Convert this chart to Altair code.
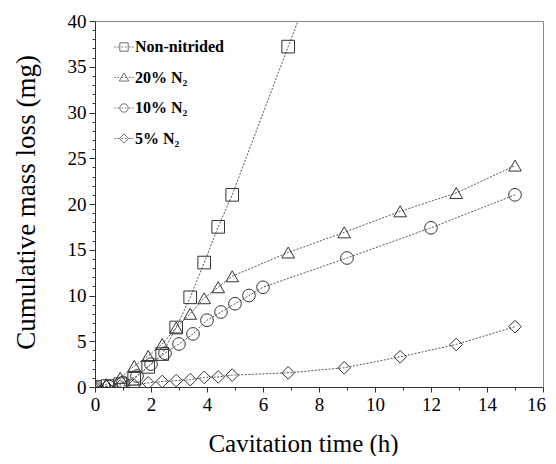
import altair as alt
import pandas as pd

series_names = ["Non-nitrided", "20% N₂", "10% N₂", "5% N₂"]

x_non = [0, 0.45, 0.9, 1.4, 1.9, 2.4, 2.9, 3.4, 3.9, 4.4, 4.9, 6.9, 9.0]
y_non = [0, 0.1, 0.3, 0.9, 2.2, 3.6, 6.5, 9.8, 13.6, 17.5, 21.0, 37.2, 54.0]

x_20 = [0, 0.4, 0.9, 1.4, 1.9, 2.4, 2.9, 3.4, 3.9, 4.4, 4.9, 6.9, 8.9, 10.9, 12.9, 15.0]
y_20 = [0, 0.3, 1.0, 2.3, 3.4, 4.7, 6.5, 8.0, 9.7, 10.9, 12.1, 14.7, 16.9, 19.2, 21.2, 24.2]

x_10 = [0, 0.5, 1.0, 1.5, 2.0, 2.5, 3.0, 3.5, 4.0, 4.5, 5.0, 5.5, 6.0, 9.0, 12.0, 15.0]
y_10 = [0, 0.05, 0.5, 1.2, 2.5, 3.7, 4.7, 5.8, 7.3, 8.2, 9.1, 10.0, 10.9, 14.1, 17.4, 21.0]

x_5 = [0, 0.4, 0.9, 1.4, 1.9, 2.4, 2.9, 3.4, 3.9, 4.4, 4.9, 6.9, 8.9, 10.9, 12.9, 15.0]
y_5 = [0, 0.05, 0.1, 0.2, 0.45, 0.6, 0.7, 0.8, 1.05, 1.1, 1.3, 1.55, 2.1, 3.3, 4.65, 6.6]

x_ticks = [i * 0.5 for i in range(33)]
y_ticks = list(range(41))

rows = []
for name, xs, ys in zip(series_names, [x_non, x_20, x_10, x_5], [y_non, y_20, y_10, y_5]):
    for xv, yv in zip(xs, ys):
        rows.append({"series": name, "t": xv, "m": yv})
df = pd.DataFrame(rows)

FONT = "Liberation Serif"

xenc = alt.X(
    "t:Q",
    scale=alt.Scale(domain=[0, 16], nice=False),
    axis=alt.Axis(
        title="Cavitation time (h)",
        values=x_ticks,
        format="d",
        labelExpr="datum.value % 2 === 0 ? datum.label : ''",
        tickSize={"condition": {"test": "datum.value % 2 === 0", "value": 5}, "value": 3},
        labelOffset={"condition": {"test": "datum.value === 16", "value": -7}, "value": 0},
        labelPadding=3,
        titlePadding=17,
        titleFontSize=25,
        titleX=208,
        titleAlign="center",
    ),
)
yenc = alt.Y(
    "m:Q",
    scale=alt.Scale(domain=[0, 40], nice=False),
    axis=alt.Axis(
        title="Cumulative mass loss (mg)",
        values=y_ticks,
        format="d",
        labelExpr="datum.value % 5 === 0 ? datum.label : ''",
        tickSize={"condition": {"test": "datum.value % 5 === 0", "value": 6}, "value": 3},
        labelPadding=3,
        titlePadding=27,
        titleFontSize=27,
        titleY=181,
        titleAlign="center",
    ),
)

lines = alt.Chart(df).mark_line(
    clip=True, color="#555", strokeWidth=1, strokeDash=[2, 1.5]
).encode(x=xenc, y=yenc, detail="series:N", order="t:Q")

points = alt.Chart(df).mark_point(
    clip=True, filled=False, color="#333", strokeWidth=1, size=160, opacity=1
).encode(
    x=xenc,
    y=yenc,
    shape=alt.Shape(
        "series:N",
        scale=alt.Scale(domain=series_names, range=["square", "triangle-up", "circle", "diamond"]),
        legend=None,
    ),
)

dash = "M-2.3,0H-1.9M-1.6,0H-1.2M-0.6,0H-0.2M0.2,0H0.6M1.2,0H1.6M1.9,0H2.3"
legend_paths = [
    "M-1,-1H1V1H-1Z" + dash,
    "M0,-1.1L1.15,0.85H-1.15Z" + dash,
    "M1,0A1,1,0,1,1,-1,0A1,1,0,1,1,1,0Z" + dash,
    "M0,-1.1L1.1,0L0,1.1L-1.1,0Z" + dash,
]

legend_layer = alt.Chart(df).transform_filter("false").mark_point(
    filled=False, color="#333", strokeWidth=1
).encode(
    x=xenc,
    y=yenc,
    shape=alt.Shape(
        "series:N",
        scale=alt.Scale(domain=series_names, range=legend_paths),
        legend=alt.Legend(
            title=None,
            orient="none",
            legendX=21,
            legendY=18,
            padding=0,
            symbolSize=70,
            symbolStrokeColor="#333",
            symbolStrokeWidth=1,
            symbolFillColor="transparent",
            labelOffset=3,
            rowPadding=14.5,
        ),
    ),
)

chart = (
    alt.layer(lines, points, legend_layer)
    .resolve_scale(shape="independent")
    .properties(
        width=448,
        height=366,
        autosize=alt.AutoSizeParams(type="none"),
        padding={"left": 87, "top": 13, "right": 5, "bottom": 69},
        background="white",
    )
    .configure(font=FONT)
    .configure_view(stroke="#888", strokeWidth=1)
    .configure_axis(
        labelFont=FONT, labelFontSize=19, labelColor="black",
        labelOverlap=False, labelFlush=False,
        titleFont=FONT, titleFontWeight="normal", titleColor="black",
        domainColor="#333", tickColor="#333", grid=False,
    )
    .configure_legend(
        labelFont=FONT, labelFontSize=16, labelFontWeight="bold", labelColor="black",
    )
)

chart.save("out.html", embed_options={"renderer": "svg", "actions": False})
